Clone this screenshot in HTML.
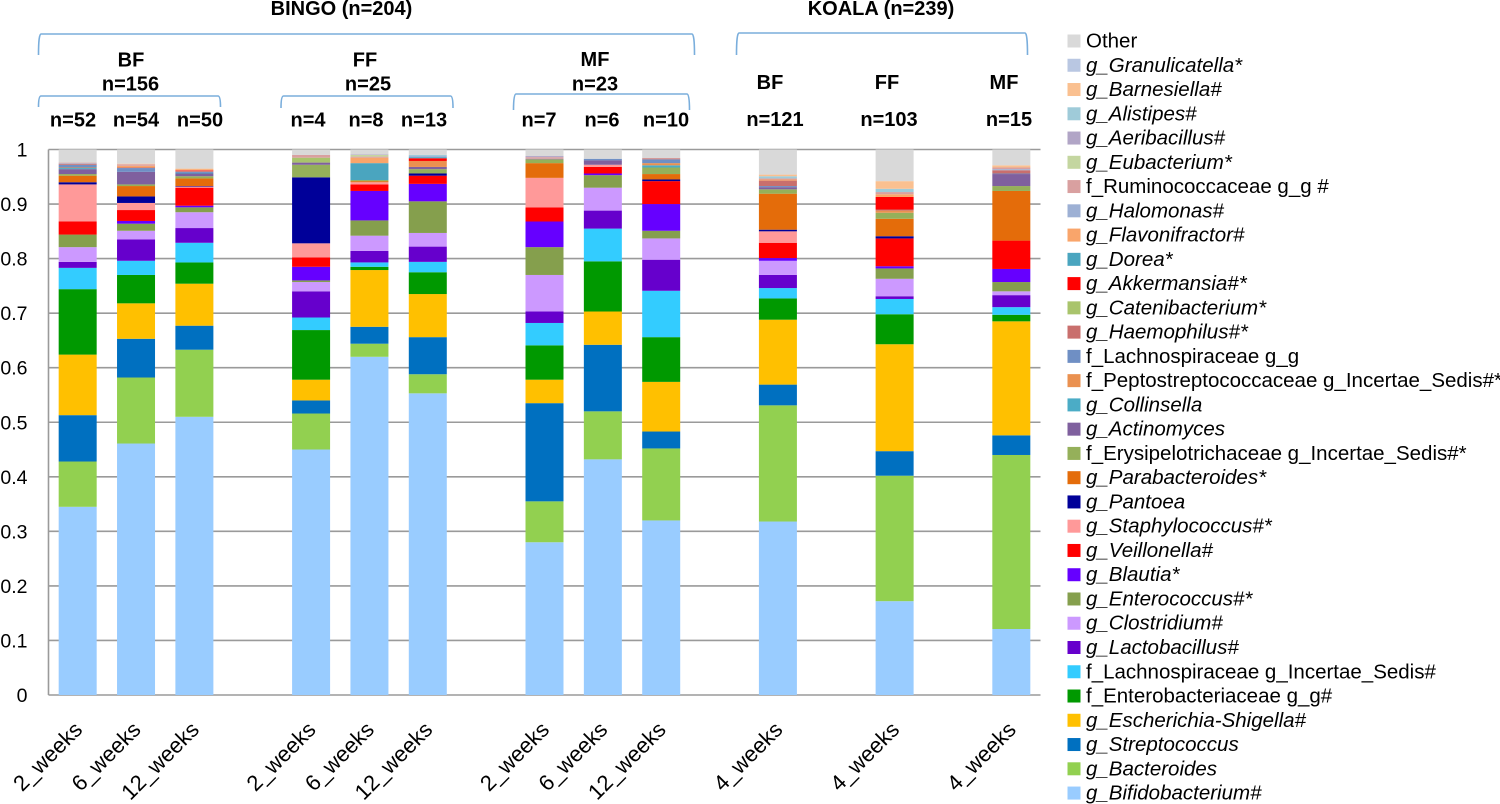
<!DOCTYPE html>
<html lang="en">
<head>
<meta charset="utf-8">
<title>BINGO and KOALA genus composition</title>
<style>
html,body{margin:0;padding:0;background:#fff;}
svg{display:block;}
text{font-family:"Liberation Sans",sans-serif;fill:#000;}
.h{font-weight:bold;font-size:20px;text-anchor:middle;}
.b{fill:none;stroke:#7aaedc;stroke-width:1.6;}
</style>
</head>
<body>
<svg id="chart" width="1500" height="804" viewBox="0 0 1500 804" xmlns="http://www.w3.org/2000/svg">
<text class="h" x="341.500" y="15">BINGO (n=204)</text>
<text class="h" x="881" y="15">KOALA (n=239)</text>
<path class="b" d="M38.500 55 Q38.500 34 41 34 H692 Q694.500 34 694.500 55"/>
<path class="b" d="M736.500 55 Q736.500 33 739 33 H1025 Q1027.500 33 1027.500 55"/>
<path class="b" d="M38.500 107 Q38.500 96 41 96 H218 Q220.500 96 220.500 107"/>
<path class="b" d="M281 108 Q281 96 283.500 96 H450.500 Q453 96 453 108"/>
<path class="b" d="M513.500 110 Q513.500 94 516 94 H687 Q689.500 94 689.500 110"/>
<text class="h" x="131" y="66.500">BF</text>
<text class="h" x="130.500" y="90.500">n=156</text>
<text class="h" x="365" y="66.500">FF</text>
<text class="h" x="368" y="90.500">n=25</text>
<text class="h" x="595" y="66">MF</text>
<text class="h" x="595" y="90.500">n=23</text>
<text class="h" x="73" y="126.500">n=52</text>
<text class="h" x="136" y="126.500">n=54</text>
<text class="h" x="200" y="126.500">n=50</text>
<text class="h" x="308" y="126.500">n=4</text>
<text class="h" x="366" y="126.500">n=8</text>
<text class="h" x="424" y="126.500">n=13</text>
<text class="h" x="539" y="126.500">n=7</text>
<text class="h" x="602" y="126.500">n=6</text>
<text class="h" x="666" y="126.500">n=10</text>
<text class="h" x="770" y="89">BF</text>
<text class="h" x="887" y="89">FF</text>
<text class="h" x="1004" y="89">MF</text>
<text class="h" x="775" y="126">n=121</text>
<text class="h" x="889" y="126">n=103</text>
<text class="h" x="1009" y="126">n=15</text>
</svg>
<script>
const categories = ["2_weeks","6_weeks","12_weeks","","2_weeks","6_weeks","12_weeks","","2_weeks","6_weeks","12_weeks","","4_weeks","","4_weeks","","4_weeks"];
const yTicks = [0,0.1,0.2,0.3,0.4,0.5,0.6,0.7,0.8,0.9,1];

const bifidobacterium = [.345,.461,.510,.450,.620,.553,.280,.432,.320,.318,.172,.121];
const bacteroides = [.083,.121,.123,.066,.024,.035,.075,.088,.132,.213,.230,.319];
const streptococcus = [.085,.071,.044,.024,.031,.068,.180,.122,.031,.038,.045,.036];
const escherichia = [.111,.065,.077,.038,.104,.079,.043,.061,.091,.119,.196,.209];
const enterobacteriaceae = [.120,.052,.039,.091,.006,.040,.063,.092,.082,.039,.055,.012];
const lachnoIncertae = [.039,.026,.036,.023,.008,.019,.041,.060,.085,.019,.028,.014];
const lactobacillus = [.011,.039,.027,.048,.021,.028,.021,.033,.057,.024,.005,.022];
const clostridium = [.027,.016,.029,.017,.028,.025,.067,.042,.039,.026,.032,.007];
const enterococcus = [.023,.013,.009,.003,.028,.058,.051,.023,.014,0,.019,.017];
const blautia = [0,.005,.003,.025,.054,.032,.047,.003,.049,.005,.004,.024];
const veillonella = [.024,.020,.033,.017,.012,.015,.026,.012,.042,.028,.051,.052];
const staphylococcus = [.068,.013,.002,.026,.004,0,.054,.004,0,.021,0,0];
const pantoea = [.004,.012,.001,.121,0,.004,0,0,.003,.003,.004,0];
const parabacteroides = [.012,.019,.014,0,.002,0,.027,0,.010,.066,.032,.091];
const erysipelotrichaceae = [.003,.003,.004,.023,.002,.008,.007,0,.012,.008,.011,.009];
const actinomyces = [.009,.023,.005,.004,0,.004,.001,.008,0,.004,0,.022];
const collinsella = [.002,0,.001,0,0,0,0,0,.004,0,0,0];
const peptostreptococcaceae = [.001,0,0,0,0,.011,0,0,.004,0,.004,0];
const lachnoGG = [.005,.007,.002,0,0,0,0,.003,.007,.002,0,.001];
const haemophilus = [.002,.001,.002,0,0,0,0,0,.002,.010,.002,.006];
const catenibacterium = [0,0,0,.009,0,0,0,0,0,0,0,0];
const akkermansia = [0,0,.001,0,0,.005,0,0,0,0,.023,0];
const dorea = [0,0,0,0,.031,.002,0,0,0,0,0,0];
const flavonifractor = [0,.003,.002,0,.010,0,0,0,0,.002,.005,0];
const halomonas = [.001,0,0,0,0,.002,0,0,0,0,0,.002];
const ruminococcaceae = [.001,.003,0,.005,.002,0,.003,0,0,.002,.004,.003];
const eubacterium = [0,0,0,0,.003,0,0,0,0,0,0,0];
const aeribacillus = [0,0,0,0,.001,0,.002,0,0,0,0,0];
const alistipes = [0,0,0,0,0,.002,0,0,0,.004,.006,0];
const barnesiella = [0,.001,.001,0,0,0,0,0,0,.003,.014,.004];
const granulicatella = [0,0,0,0,0,0,0,0,0,0,0,0];
const other = [.024,.026,.035,.010,.009,.010,.012,.017,.016,.046,.058,.029];

const seriesValues = [bifidobacterium,bacteroides,streptococcus,escherichia,enterobacteriaceae,lachnoIncertae,lactobacillus,clostridium,enterococcus,blautia,veillonella,staphylococcus,pantoea,parabacteroides,erysipelotrichaceae,actinomyces,collinsella,peptostreptococcaceae,lachnoGG,haemophilus,catenibacterium,akkermansia,dorea,flavonifractor,halomonas,ruminococcaceae,eubacterium,aeribacillus,alistipes,barnesiella,granulicatella,other];
const seriesNames = ["g_Bifidobacterium#","g_Bacteroides","g_Streptococcus","g_Escherichia-Shigella#","f_Enterobacteriaceae g_g#","f_Lachnospiraceae g_Incertae_Sedis#","g_Lactobacillus#","g_Clostridium#","g_Enterococcus#*","g_Blautia*","g_Veillonella#","g_Staphylococcus#*","g_Pantoea","g_Parabacteroides*","f_Erysipelotrichaceae g_Incertae_Sedis#*","g_Actinomyces","g_Collinsella","f_Peptostreptococcaceae g_Incertae_Sedis#*","f_Lachnospiraceae g_g","g_Haemophilus#*","g_Catenibacterium*","g_Akkermansia#*","g_Dorea*","g_Flavonifractor#","g_Halomonas#","f_Ruminococcaceae g_g #","g_Eubacterium*","g_Aeribacillus#","g_Alistipes#","g_Barnesiella#","g_Granulicatella*","Other"];
const seriesColors = ["#99ccff","#92d050","#0070c0","#ffc000","#009900","#33ccff","#6600cc","#cc99ff","#859f4d","#6600ff","#ff0000","#ff9999","#000099","#e46c0a","#95b05a","#7f609e","#4bacc6","#ea9150","#6f8fc4","#c96f6d","#a9c46c","#ff0000","#4aa5bf","#f9a56b","#9db0d4","#d9a0a0","#c4d6a0","#b1a5c6","#9fcbd9","#fac090","#b9c7e2","#d9d9d9"];

const SVG = "http://www.w3.org/2000/svg";
const svg = document.getElementById("chart");
const plotLeft = 48.5, plotRight = 1040.5, plotBase = 695, plotHeight = 545.5;
const step = (plotRight - plotLeft) / categories.length;
const barWidth = 38;
const xScale = i => plotLeft + step * (i + 0.5);
const yScale = v => plotBase - v * plotHeight;
function mk(tag, attrs, parent) {
  const el = document.createElementNS(SVG, tag);
  for (const k in attrs) el.setAttribute(k, attrs[k]);
  (parent || svg).appendChild(el);
  return el;
}
const slug = s => s.toLowerCase().replace(/[^a-z0-9]+/g, "-").replace(/^-|-$/g, "");

yTicks.forEach(t => {
  const line = mk("line", {x1: plotLeft, x2: plotRight, y1: yScale(t), y2: yScale(t), stroke: "#9a9a9a", "stroke-width": 1.6});
  
  
  const label = mk("text", {x: 27.5, y: yScale(t) + 7, "text-anchor": "end", "font-size": 19.5});
  label.textContent = String(t);
  
  
});
const yAxis = mk("line", {x1: plotLeft, x2: plotLeft, y1: yScale(1), y2: yScale(0), stroke: "#9a9a9a", "stroke-width": 1.6});



let barIndex = 0;
categories.forEach((cat, slot) => {
  if (!cat) return;
  const cx = xScale(slot);
  const group = mk("g", {});
  
  
  let cum = 0;
  seriesValues.forEach((vals, s) => {
    const v = vals[barIndex];
    if (v > 0) {
      const rect = mk("rect", {x: cx - barWidth / 2, y: yScale(cum + v), width: barWidth, height: v * plotHeight, fill: seriesColors[s]}, group);
      
      
    }
    cum += v;
  });
  const ex = cx + 6, ey = 731;
  const xl = mk("text", {x: ex, y: ey, "text-anchor": "end", "font-size": 22, transform: "rotate(-45 " + ex + " " + ey + ")"});
  xl.textContent = cat;
  
  
  barIndex++;
});

const legendTop = 41, legendStep = 24.26, legendCount = seriesNames.length;
seriesNames.forEach((name, s) => {
  const row = legendCount - 1 - s;
  const y = legendTop + row * legendStep;
  const entry = mk("g", {});
  
  
  const sw = mk("rect", {x: 1067.5, y: y - 6.5, width: 13, height: 13, fill: seriesColors[s]}, entry);
  
  
  const tx = mk("text", {x: 1086, y: y + 6.5, "font-size": 20.5}, entry);
  if (name.startsWith("g_")) tx.setAttribute("font-style", "italic");
  tx.textContent = name;
  
  
});
</script>
</body>
</html>
